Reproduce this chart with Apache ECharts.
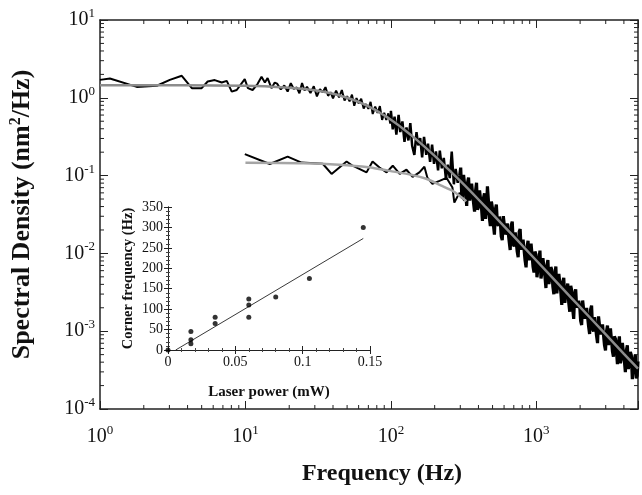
<!DOCTYPE html>
<html>
<head>
<meta charset="utf-8">
<script src="https://cdn.jsdelivr.net/npm/echarts@6/dist/echarts.min.js"></script>
<style>
html,body{margin:0;padding:0;background:#fff;}
#c{width:642px;height:495px;}
</style>
</head>
<body>
<div id="c"></div>
<script>
// ---- main spectrum, high power (Hz, nm^2/Hz) ----
const freqHigh = [
 1.0,1.17,1.79,2.46,3.02,3.65,4.28,5.0,5.5,6.15,6.87,7.44,8.05,8.71,9.89,10.4,11.2,12.1,12.9,13.6,14.2,15.1,15.9,
 16.5,17.5,18.5,19.5,20.5,21.5,22.5,23.5,24.5,25.5,26.5,28,29.5,31,32.5,34,35.5,37,38.5,40,42,44,46,48,50,52,54,56,58,60,62.5,65,67.5,70,72.5,75,78,81,84,87,90,93,96,99,
 100,103,106,109,113,116,120,124,128,132,136,140,145,150,154,159,164,169,175,180,186,192,198,204,211,217,224,231,239,246,254,262,271,279,288,
 297,302,307,311,316,321,327,332,337,342,348,353,359,364,370,376,382,388,394,400,407,413,420,426,433,440,447,454,461,468,476,483,491,499,507,515,523,531,540,548,557,565,574,583,593,602,612,621,631,641,651,661,672,683,694,705,716,727,738,750,762,774,786,798,811,824,837,850,864,877,891,905,920,934,949,964,979,994,
 1010,1026,1043,1059,1076,1093,1110,1128,1146,1164,1182,1201,1220,1239,1259,1279,1299,1320,1341,1362,1383,1405,1428,1450,1473,1496,1520,1544,1569,1594,1619,1644,1670,1697,1724,1751,1779,1807,1836,1865,1894,1924,1955,1986,
 2017,2049,2082,2115,2148,2182,2217,2252,2288,2324,2361,2398,2436,2475,2514,2554,2594,2635,2677,2720,2763,2807,2851,2896,2942,2989,3036,3084,3133,3183,3233,3285,3337,3390,3443,3498,3553,3610,3667,3725,3784,3844,3905,3967,4030,4094,4159,4225,4291,4360,4429,4499,4570,4643,4716,4791,4867,4933,5000
];
const densHigh = [
 1.70,1.77,1.38,1.43,1.70,1.92,1.33,1.33,1.62,1.69,1.57,1.65,1.20,1.26,1.74,1.33,1.26,1.50,1.86,1.57,1.79,1.33,1.57,
 1.52,1.28,1.44,1.20,1.54,1.30,1.36,1.14,1.55,1.24,1.39,1.15,1.41,1.04,1.29,1.18,1.37,1.06,1.18,0.98,1.24,1.01,1.26,0.92,1.05,0.90,1.10,0.79,0.99,0.85,0.97,0.73,0.83,0.72,0.885,0.62,0.77,0.64,0.78,0.52,0.64,0.52,0.63,0.465,
 0.679,0.392,0.571,0.336,0.602,0.363,0.497,0.272,0.416,0.283,0.473,0.242,0.184,0.363,0.245,0.304,0.171,0.315,0.185,0.257,0.150,0.250,0.142,0.204,0.117,0.210,0.124,0.169,0.091,0.138,0.093,0.203,0.0774,0.122,0.0810,
 0.0999,0.1265,0.0556,0.0509,0.102,0.0786,0.0595,0.0408,0.0821,0.0943,0.0477,0.0575,0.0788,0.0754,0.0446,0.0344,0.0635,0.0809,0.0365,0.0393,0.0647,0.0508,0.0381,0.0261,0.0515,0.0593,0.0278,0.0366,0.0729,0.0489,0.0281,0.0225,0.0463,0.0384,0.0233,0.01746,0.0365,0.0425,0.0241,0.0226,0.0297,0.0255,0.0165,0.0148,0.0301,0.0309,0.0176,0.0187,0.0242,0.0255,0.0141,0.01104,0.0232,0.0256,0.0131,0.01231,0.0186,0.0176,0.01067,0.00893,0.0189,0.0205,0.01113,0.01118,0.0150,0.01488,0.00809,0.00661,0.01215,0.01452,0.00816,0.00958,0.0134,0.01336,0.00675,0.00567,0.01058,0.00968,
 0.00493,0.00470,0.00858,0.01085,0.00477,0.00564,0.00870,0.00849,0.00507,0.00359,0.00697,0.00822,0.00404,0.00487,0.00667,0.00606,0.00376,0.00299,0.00533,0.00679,0.00306,0.00321,0.00543,0.00418,0.00319,0.00218,0.00429,0.00484,0.00232,0.00288,0.00347,0.00409,0.00234,0.00178,0.00384,0.00334,0.00193,0.00144,0.00303,0.00346,0.00200,0.00189,0.00245,0.00214,
 0.00136,0.00120,0.00248,0.00255,0.00145,0.00161,0.00199,0.00209,0.00115,0.000921,0.00190,0.00213,0.00107,0.000998,0.00152,0.00145,0.000873,0.000702,0.00155,0.00160,0.000908,0.000906,0.00122,0.00121,0.000659,0.000566,0.000991,0.00118,0.000665,0.000765,0.00109,0.00107,0.000549,0.000469,0.000860,0.000800,0.000568,0.000376,0.000698,0.000858,0.000388,0.000453,0.000706,0.000684,0.000412,0.000297,0.000566,0.000658,0.000328,0.000386,0.000541,0.000492,0.000242,0.000243,0.000433,0.000497,0.000248,0.000268,0.000408
];
const IDX_100HZ = 67;  // index of 100 Hz
const IDX_300HZ = 102; // index of ~300 Hz, where the noise becomes a solid band
// ---- fitted curve, high power ----
const fitFreqHigh = [1,10,20,30,40,50,60,75,90,100,120,150,200,250,300,400,500,700,1000,1500,2000,3000,4000,5000];
const fitDensHigh = [1.45,1.43,1.35,1.25,1.13,1.00,0.884,0.725,0.594,0.522,0.407,0.290,0.179,0.119,0.0853,0.0493,0.0319,0.0165,0.0081,0.0036,0.00204,0.00091,0.00051,0.00033];
// ---- spectrum, low power ----
const freqLow = [9.9,14.7,19.5,24.3,34,39.1,49.6,54.5,68,74.8,83.5,93.4,103,115,128,141,157,170,178,193,216,241,265,273,296,320];
const densLow = [0.189,0.141,0.175,0.147,0.142,0.105,0.152,0.134,0.110,0.152,0.127,0.110,0.134,0.105,0.119,0.0965,0.110,0.130,0.0945,0.0785,0.0857,0.0937,0.0703,0.045,0.060,0.0474];
const fitFreqLow = [10,25,44,70,98,140,175,220,264,300,330];
const fitDensLow = [0.146,0.144,0.138,0.128,0.115,0.102,0.091,0.075,0.064,0.054,0.047];
// ---- inset: corner frequency vs laser power ----
const laserPower = [0,0.017,0.017,0.017,0.035,0.035,0.06,0.06,0.06,0.08,0.105,0.145];
const cornerFreq = [0,45,25,15,80,65,125,110,80,130,175,300];
const fitPower = [0.0057,0.145];
const fitCorner = [0,273];
// ---- ticks ----
const xMinorTicks = [2,3,4,5,6,7,8,9,20,30,40,50,60,70,80,90,200,300,400,500,600,700,800,900,2000,3000,4000];
const yMinorTicks = [2e-4,3e-4,4e-4,5e-4,6e-4,7e-4,8e-4,9e-4,2e-3,3e-3,4e-3,5e-3,6e-3,7e-3,8e-3,9e-3,0.02,0.03,0.04,0.05,0.06,0.07,0.08,0.09,0.2,0.3,0.4,0.5,0.6,0.7,0.8,0.9,2,3,4,5,6,7,8,9];

const X_MIN = 1, X_MAX = 5000, Y_MIN = 1e-4, Y_MAX = 10;
const FONT = "'Liberation Serif','Times New Roman',serif";
const zip = (a, b) => a.map((v, i) => [v, b[i]]);
const highPts = zip(freqHigh, densHigh);

function decadeLabel(v) {
  const e = Math.round(Math.log10(v));
  if (Math.abs(v - Math.pow(10, e)) / Math.pow(10, e) > 1e-6) return '';
  return '{b|10}{s|' + e + '}';
}
const richTick = {
  b: {fontFamily: FONT, fontSize: 20, color: '#111', lineHeight: 26},
  s: {fontFamily: FONT, fontSize: 13, color: '#111', verticalAlign: 'top', lineHeight: 26, padding: [0, 0, 10, 0]}
};

function minorTickItem(dim) {
  return function (params, api) {
    const cs = params.coordSys;
    const L = 4;
    const st = {stroke: '#222', lineWidth: 1};
    if (dim === 'x') {
      const px = api.coord([api.value(0), Y_MIN])[0];
      return {type: 'group', children: [
        {type: 'line', shape: {x1: px, y1: cs.y + cs.height, x2: px, y2: cs.y + cs.height - L}, style: st},
        {type: 'line', shape: {x1: px, y1: cs.y, x2: px, y2: cs.y + L}, style: st}
      ]};
    }
    const py = api.coord([X_MIN, api.value(1)])[1];
    return {type: 'group', children: [
      {type: 'line', shape: {x1: cs.x, y1: py, x2: cs.x + L, y2: py}, style: st},
      {type: 'line', shape: {x1: cs.x + cs.width, y1: py, x2: cs.x + cs.width - L, y2: py}, style: st}
    ]};
  };
}

const axisLineStyle = {color: '#222', width: 1.5};
const chart = echarts.init(document.getElementById('c'), null, {renderer: 'canvas'});
chart.setOption({
  animation: false,
  backgroundColor: '#fff',
  grid: [
    {left: 100, top: 20, right: 4, bottom: 86},
    {left: 168, top: 207, width: 202, height: 143}
  ],
  xAxis: [
    {type: 'log', gridIndex: 0, min: X_MIN, max: X_MAX, logBase: 10, position: 'bottom',
     axisLine: {lineStyle: axisLineStyle}, axisTick: {inside: true, length: 8, lineStyle: {color: '#222'}},
     splitLine: {show: false},
     axisLabel: {formatter: decadeLabel, rich: richTick, margin: 15},
     name: 'Frequency (Hz)', nameLocation: 'middle', nameGap: 53,
     nameTextStyle: {fontFamily: FONT, fontSize: 24, fontWeight: 'bold', color: '#111', padding: [0, 0, 0, 26]}},
    {type: 'log', gridIndex: 0, min: X_MIN, max: X_MAX, logBase: 10, position: 'top',
     axisLine: {lineStyle: axisLineStyle}, axisTick: {inside: true, length: 8, lineStyle: {color: '#222'}},
     splitLine: {show: false}, axisLabel: {show: false}},
    {type: 'value', gridIndex: 1, min: 0, max: 0.15, interval: 0.05, position: 'bottom',
     axisLine: {lineStyle: {color: '#222', width: 1}}, axisTick: {inside: true, length: 4, lineStyle: {color: '#222'}},
     minorTick: {show: true, splitNumber: 5, length: 2, lineStyle: {color: '#444'}},
     splitLine: {show: false},
     axisLabel: {fontFamily: FONT, fontSize: 14, color: '#111', margin: 5},
     name: 'Laser power (mW)', nameLocation: 'middle', nameGap: 35,
     nameTextStyle: {fontFamily: FONT, fontSize: 15, fontWeight: 'bold', color: '#111'}},
    {type: 'value', gridIndex: 1, min: 0, max: 0.15, interval: 0.05, position: 'top',
     axisLine: {lineStyle: {color: '#222', width: 1}}, axisTick: {inside: true, length: 4, lineStyle: {color: '#222'}},
     minorTick: {show: true, splitNumber: 5, length: 2, lineStyle: {color: '#444'}},
     splitLine: {show: false}, axisLabel: {show: false}}
  ],
  yAxis: [
    {type: 'log', gridIndex: 0, min: Y_MIN, max: Y_MAX, logBase: 10, position: 'left',
     axisLine: {lineStyle: axisLineStyle}, axisTick: {inside: true, length: 8, lineStyle: {color: '#222'}},
     splitLine: {show: false},
     axisLabel: {formatter: decadeLabel, rich: richTick, margin: 5},
     name: 'Spectral Density (nm{s|2}/Hz)', nameLocation: 'middle', nameGap: 64, nameRotate: 90,
     nameTextStyle: {fontFamily: FONT, fontSize: 26, fontWeight: 'bold', color: '#111',
       rich: {s: {fontFamily: FONT, fontSize: 16, fontWeight: 'bold', color: '#111', verticalAlign: 'top', padding: [0, 0, 12, 0]}}}},
    {type: 'log', gridIndex: 0, min: Y_MIN, max: Y_MAX, logBase: 10, position: 'right',
     axisLine: {lineStyle: axisLineStyle}, axisTick: {inside: true, length: 8, lineStyle: {color: '#222'}},
     splitLine: {show: false}, axisLabel: {show: false}},
    {type: 'value', gridIndex: 1, min: 0, max: 350, interval: 50, position: 'left',
     axisLine: {lineStyle: {color: '#222', width: 1}}, axisTick: {inside: true, length: 4, lineStyle: {color: '#222'}},
     minorTick: {show: true, splitNumber: 5, length: 2, lineStyle: {color: '#444'}},
     splitLine: {show: false},
     axisLabel: {fontFamily: FONT, fontSize: 14, color: '#111', margin: 5},
     name: 'Corner frequency (Hz)', nameLocation: 'middle', nameGap: 32, nameRotate: 90,
     nameTextStyle: {fontFamily: FONT, fontSize: 14.5, fontWeight: 'bold', color: '#111'}},
    {type: 'value', gridIndex: 1, min: 0, max: 350, interval: 50, position: 'right',
     axisLine: {lineStyle: {color: '#222', width: 1}}, axisTick: {inside: true, length: 4, lineStyle: {color: '#222'}},
     minorTick: {show: true, splitNumber: 5, length: 2, lineStyle: {color: '#444'}},
     splitLine: {show: false}, axisLabel: {show: false}}
  ],
  series: [
    {type: 'custom', xAxisIndex: 0, yAxisIndex: 0, renderItem: minorTickItem('x'),
     data: xMinorTicks.map(v => [v, Y_MIN]), silent: true, clip: false, z: 1},
    {type: 'custom', xAxisIndex: 0, yAxisIndex: 0, renderItem: minorTickItem('y'),
     data: yMinorTicks.map(v => [X_MIN, v]), silent: true, clip: false, z: 1},
    {type: 'line', xAxisIndex: 0, yAxisIndex: 0, data: highPts.slice(0, IDX_100HZ + 1), showSymbol: false,
     lineStyle: {color: '#000', width: 2}, z: 2},
    {type: 'line', xAxisIndex: 0, yAxisIndex: 0, data: highPts.slice(IDX_100HZ, IDX_300HZ + 1), showSymbol: false,
     lineStyle: {color: '#000', width: 2.5, join: 'bevel'}, z: 2},
    {type: 'line', xAxisIndex: 0, yAxisIndex: 0, data: highPts.slice(IDX_300HZ), showSymbol: false,
     lineStyle: {color: '#000', width: 3.2, join: 'bevel'}, z: 2},
    {type: 'line', xAxisIndex: 0, yAxisIndex: 0, data: zip(freqLow, densLow), showSymbol: false,
     lineStyle: {color: '#000', width: 2}, z: 2},
    {type: 'line', xAxisIndex: 0, yAxisIndex: 0, data: zip(fitFreqHigh, fitDensHigh), showSymbol: false, smooth: 0.3,
     lineStyle: {color: '#8c8c8c', width: 2.5}, z: 3},
    {type: 'line', xAxisIndex: 0, yAxisIndex: 0, data: zip(fitFreqLow, fitDensLow), showSymbol: false, smooth: 0.3,
     lineStyle: {color: '#a5a5a5', width: 2.5}, z: 3},
    {type: 'scatter', xAxisIndex: 2, yAxisIndex: 2, data: zip(laserPower, cornerFreq),
     symbol: 'circle', symbolSize: 5, itemStyle: {color: '#000'}, clip: false, z: 4},
    {type: 'line', xAxisIndex: 2, yAxisIndex: 2, data: zip(fitPower, fitCorner), showSymbol: false,
     lineStyle: {color: '#222', width: 0.9}, z: 4}
  ]
});
</script>
</body>
</html>
